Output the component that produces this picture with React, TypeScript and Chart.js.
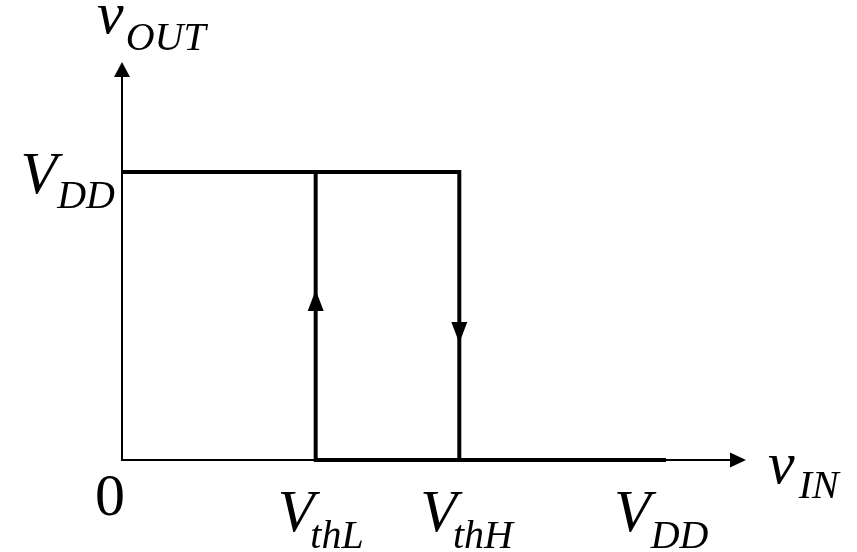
import React, { useEffect, useRef } from "react";
import { Chart, registerables } from "chart.js";

Chart.register(...registerables);

// ---- data (volts) ----
const VDD = 5;
const VthL = 1.78;
const VthH = 3.1;

// rising input path: output high until VthH, then low
const risingX = [0, VthH, VthH, VDD];
const risingY = [VDD, VDD, 0, 0];
// falling input path: output low until VthL, then high
const fallingX = [VDD, VthL, VthL, 0];
const fallingY = [0, 0, VDD, VDD];

const xTickValues = [VthL, VthH, VDD];
const xTickMain = ["V", "V", "V"];
const xTickSubs = ["thL", "thH", "DD"];
const yTickValues = [VDD];
const yTickMain = ["V"];
const yTickSubs = ["DD"];
const originLabel = "0";
const xTitle = ["v", "IN"];
const yTitle = ["v", "OUT"];

const xMax = 5.735;
const yMax = 6.91;

// arrowheads along the transition segments: [x, tip fraction of VDD, direction]
const transitionArrows: [number, number, number][] = [
  [VthL, 0.59, 1],
  [VthH, 0.406, -1],
];

// ---- styles ----
const FONT_FAMILY = '"Liberation Serif", "Times New Roman", "DejaVu Serif", serif';
const MAIN_FONT = `italic 60px ${FONT_FAMILY}`;
const SUB_FONT = `italic 40px ${FONT_FAMILY}`;
const ZERO_FONT = `60px ${FONT_FAMILY}`;
const xTickDx = [-38, -39, -52];

function drawSubLabel(
  ctx: CanvasRenderingContext2D,
  x: number,
  y: number,
  main: string,
  sub: string,
  subDy: number,
  subDx = 0
) {
  ctx.font = MAIN_FONT;
  ctx.textAlign = "left";
  ctx.textBaseline = "alphabetic";
  ctx.fillText(main, x, y);
  const w = ctx.measureText(main).width;
  ctx.font = SUB_FONT;
  ctx.fillText(sub, x + w + subDx, y + subDy);
}

function subLabelWidth(ctx: CanvasRenderingContext2D, main: string, sub: string) {
  ctx.font = MAIN_FONT;
  const a = ctx.measureText(main).width;
  ctx.font = SUB_FONT;
  return a + ctx.measureText(sub).width;
}

function arrowHead(
  ctx: CanvasRenderingContext2D,
  tipX: number,
  tipY: number,
  dx: number,
  dy: number,
  len: number,
  half: number
) {
  // (dx,dy) unit direction of the arrow pointing
  const bx = tipX - dx * len;
  const by = tipY - dy * len;
  const px = -dy;
  const py = dx;
  ctx.beginPath();
  ctx.moveTo(tipX, tipY);
  ctx.lineTo(bx + px * half, by + py * half);
  ctx.lineTo(bx - px * half, by - py * half);
  ctx.closePath();
  ctx.fill();
}

const decorPlugin = {
  id: "decor",
  afterDatasetsDraw(chart: any) {
    const ctx: CanvasRenderingContext2D = chart.ctx;
    const xs = chart.scales.x;
    const ys = chart.scales.y;
    const x0 = xs.getPixelForValue(0);
    const y0 = ys.getPixelForValue(0);
    const xEnd = xs.getPixelForValue(xMax);
    const yEnd = ys.getPixelForValue(yMax);
    ctx.save();
    ctx.fillStyle = "#000";
    ctx.strokeStyle = "#000";
    // axes
    ctx.lineWidth = 2;
    ctx.beginPath();
    ctx.moveTo(x0, y0 + 1);
    ctx.lineTo(x0, yEnd + 10);
    ctx.moveTo(x0 - 1, y0);
    ctx.lineTo(xEnd - 10, y0);
    ctx.stroke();
    arrowHead(ctx, x0, yEnd, 0, -1, 15, 8);
    arrowHead(ctx, xEnd, y0, 1, 0, 16, 7.5);
    // transition arrows
    transitionArrows.forEach(([xv, frac, dir]) => {
      const px = xs.getPixelForValue(xv);
      const py = ys.getPixelForValue(frac * VDD);
      arrowHead(ctx, px, py, 0, -dir, 21, 8);
    });
    // x tick labels
    xTickValues.forEach((v, i) => {
      const px = xs.getPixelForValue(v);
      drawSubLabel(ctx, px + xTickDx[i], y0 + 71, xTickMain[i], xTickSubs[i], 17, i < 2 ? -4 : 0);
    });
    // y tick labels
    yTickValues.forEach((v, i) => {
      const py = ys.getPixelForValue(v);
      const w = subLabelWidth(ctx, yTickMain[i], yTickSubs[i]);
      drawSubLabel(ctx, x0 - 7 - w, py + 21, yTickMain[i], yTickSubs[i], 15);
    });
    // origin
    ctx.font = ZERO_FONT;
    ctx.textAlign = "left";
    ctx.textBaseline = "alphabetic";
    ctx.fillText(originLabel, x0 - 27, y0 + 55);
    // axis titles
    drawSubLabel(ctx, x0 - 25, yEnd - 29, yTitle[0], yTitle[1], 17, 2);
    drawSubLabel(ctx, xEnd + 22, y0 + 23, xTitle[0], xTitle[1], 15, 4);
    ctx.restore();
  },
};

export default function App() {
  const ref = useRef<HTMLCanvasElement | null>(null);
  useEffect(() => {
    if (!ref.current) return;
    const lineStyle = {
      showLine: true,
      borderColor: "#000",
      backgroundColor: "#000",
      borderWidth: 4,
      pointRadius: 0,
      borderJoinStyle: "miter" as const,
      borderCapStyle: "butt" as const,
      clip: false as any,
      fill: false,
    };
    const chart = new Chart(ref.current, {
      type: "scatter",
      data: {
        datasets: [
          {
            label: "rising",
            data: risingX.map((x, i) => ({ x, y: risingY[i] })),
            ...lineStyle,
          },
          {
            label: "falling",
            data: fallingX.map((x, i) => ({ x, y: fallingY[i] })),
            ...lineStyle,
          },
        ],
      },
      options: {
        animation: false,
        responsive: false,
        devicePixelRatio: 1,
        layout: { padding: { left: 122, right: 111, top: 62, bottom: 92 } },
        plugins: { legend: { display: false }, tooltip: { enabled: false } },
        scales: {
          x: { type: "linear", min: 0, max: xMax, display: false },
          y: { type: "linear", min: 0, max: yMax, display: false },
        },
      },
      plugins: [decorPlugin],
    });
    return () => chart.destroy();
  }, []);
  return (
    <div style={{ position: "absolute", left: 0, top: 0, width: 857, height: 552, background: "#fff" }}>
      <canvas ref={ref} width={857} height={552} style={{ width: 857, height: 552, display: "block" }} />
    </div>
  );
}
